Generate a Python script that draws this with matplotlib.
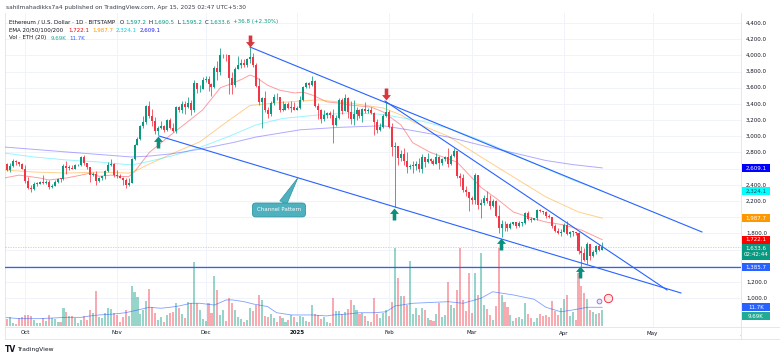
import numpy as np
import matplotlib
matplotlib.use("Agg")
import matplotlib.pyplot as plt
from matplotlib.path import Path
from matplotlib.patches import Rectangle
from matplotlib.lines import Line2D

plt.rcParams['font.family'] = ['DejaVu Sans']

# ---- data: ETH/USD daily, Sep 24 2024 .. Apr 14 2025 (day 0 = Oct 1 2024) ----
days = np.arange(-7, 196)

closes = [2655, 2580, 2635, 2695, 2680, 2660, 2600,  # Sep
          2450, 2365, 2350, 2415, 2415, 2440, 2425, 2440, 2370, 2390, 2435, 2475, 2470, 2630, 2605, 2610,
          2600, 2640, 2645, 2745, 2665, 2620, 2525, 2535, 2450, 2480, 2505, 2570, 2640, 2660, 2520,  # Oct
          2510, 2490, 2460, 2400, 2425, 2720, 2895, 2960, 3130, 3180, 3370, 3250, 3185, 3060, 3100,
          3130, 3075, 3200, 3105, 3070, 3360, 3330, 3400, 3360, 3415, 3325, 3660, 3580, 3590, 3700,  # Nov
          3710, 3640, 3615, 3840, 3790, 4000, 4005, 4000, 3715, 3630, 3830, 3880, 3910, 3875, 3960, 3985,
          3880, 3625, 3420, 3470, 3320, 3280, 3415, 3490, 3480, 3330, 3330, 3400, 3350, 3360, 3330,  # Dec
          3355, 3450, 3610, 3655, 3630, 3685, 3380, 3325, 3215, 3265, 3285, 3265, 3135, 3225, 3450, 3310,
          3475, 3305, 3215, 3280, 3330, 3245, 3335, 3310, 3320, 3285, 3180, 3075, 3115, 3250, 3300,  # Jan
          3120, 2870, 2880, 2730, 2785, 2690, 2620, 2630, 2630, 2660, 2600, 2740, 2680, 2725, 2690, 2660,
          2745, 2670, 2720, 2740, 2660, 2760, 2820, 2510, 2490, 2335, 2310, 2235,  # Feb
          2215, 2520, 2150, 2170, 2240, 2200, 2140, 2200, 2020, 1865, 1920, 1910, 1865, 1910, 1935, 1885,
          1925, 1930, 2055, 1980, 1965, 1985, 2085, 2080, 2065, 2010, 2000, 1895, 1830, 1805, 1820,  # Mar
          1905, 1795, 1815, 1815, 1805, 1580, 1555, 1475, 1670, 1520, 1570, 1645, 1597.2, 1633.6]  # Apr

highs = [2700, 2670, 2670, 2725, 2705, 2685, 2670,
         2640, 2500, 2400, 2440, 2430, 2450, 2520, 2465, 2465, 2415, 2460, 2485, 2490, 2660, 2690, 2640,
         2640, 2660, 2660, 2755, 2770, 2665, 2625, 2560, 2570, 2500, 2510, 2580, 2680, 2720, 2670,
         2580, 2530, 2495, 2485, 2480, 2730, 2910, 2985, 3145, 3250, 3390, 3440, 3340, 3240, 3130,
         3190, 3140, 3215, 3220, 3160, 3370, 3380, 3430, 3430, 3490, 3450, 3690, 3660, 3630, 3730,
         3745, 3750, 3660, 3870, 3930, 4090, 4020, 4020, 4010, 3800, 3850, 3990, 3950, 3950, 3970, 4105,
         4030, 3910, 3720, 3490, 3560, 3360, 3440, 3520, 3530, 3480, 3435, 3410, 3420, 3430, 3420,
         3370, 3500, 3620, 3670, 3670, 3745, 3700, 3410, 3340, 3320, 3300, 3315, 3340, 3260, 3470, 3470,
         3525, 3480, 3440, 3450, 3360, 3340, 3350, 3420, 3350, 3360, 3295, 3210, 3170, 3280, 3430,
         3330, 3160, 2925, 2880, 2825, 2850, 2800, 2660, 2700, 2690, 2730, 2780, 2740, 2795, 2735, 2720,
         2790, 2750, 2730, 2760, 2850, 2775, 2855, 2820, 2540, 2530, 2380, 2310,
         2260, 2550, 2525, 2220, 2280, 2320, 2280, 2230, 2210, 2150, 1960, 1950, 1925, 1935, 1945, 1940,
         1950, 1935, 2065, 2070, 2000, 1995, 2095, 2105, 2080, 2075, 2035, 2005, 1910, 1860, 1850,
         1930, 1955, 1830, 1830, 1820, 1815, 1640, 1620, 1690, 1670, 1595, 1650, 1670, 1690.5]

lows = [2610, 2565, 2555, 2615, 2650, 2630, 2590,
        2420, 2345, 2310, 2340, 2390, 2405, 2410, 2410, 2350, 2355, 2380, 2425, 2440, 2460, 2535, 2580,
        2590, 2590, 2630, 2635, 2640, 2595, 2440, 2510, 2400, 2440, 2465, 2470, 2560, 2630, 2500,
        2480, 2480, 2400, 2360, 2390, 2420, 2710, 2890, 2950, 3100, 3150, 3220, 3130, 3030, 3020,
        3090, 3050, 3070, 3090, 3050, 3035, 3300, 3290, 3280, 3350, 3260, 3300, 3530, 3550, 3580,
        3670, 3560, 3500, 3600, 3690, 3760, 3970, 3930, 3520, 3520, 3610, 3830, 3840, 3850, 3860, 3900,
        3860, 3610, 3390, 3100, 3300, 3220, 3250, 3390, 3450, 3300, 3310, 3320, 3340, 3300, 3320,
        3320, 3340, 3440, 3600, 3600, 3620, 3360, 3210, 3160, 3190, 3230, 3230, 2920, 3130, 3210, 3270,
        3310, 3225, 3150, 3140, 3200, 3230, 3180, 3290, 3285, 3280, 3020, 3040, 3060, 3100, 3240,
        3100, 2750, 2125, 2650, 2700, 2650, 2550, 2590, 2540, 2580, 2560, 2550, 2620, 2665, 2670, 2650,
        2660, 2600, 2650, 2700, 2620, 2650, 2740, 2490, 2390, 2310, 2260, 2080,
        2160, 2160, 2100, 1995, 2150, 2180, 2105, 2130, 2000, 1810, 1755, 1835, 1830, 1855, 1905, 1870,
        1880, 1885, 1920, 1960, 1940, 1965, 1970, 2060, 2040, 1990, 1995, 1870, 1820, 1790, 1770,
        1815, 1780, 1760, 1765, 1780, 1550, 1385, 1455, 1415, 1470, 1505, 1545, 1585, 1595.2]

opens = [2650] + closes[:-1]  # 24h market: each day opens at the prior close

# volume, thousands of ETH
volumes = [2.5, 4.4, 5.6, 1.9, 1.3, 5.0, 5.6,
           6.9, 6.9, 6.3, 3.8, 1.9, 1.9, 5.0, 3.1, 6.9, 5.0, 4.4, 2.5, 2.5, 11.3, 8.8, 6.3,
           6.3, 5.0, 1.9, 3.8, 6.3, 3.8, 10.0, 8.1, 21.9, 5.6, 5.0, 8.1, 11.3, 10.6, 8.1,
           6.9, 2.5, 5.6, 10.0, 6.3, 25.0, 21.3, 18.1, 7.5, 10.0, 15.6, 23.1, 11.9, 8.1, 3.8,
           5.6, 2.5, 6.9, 8.1, 8.8, 14.4, 11.3, 7.5, 5.0, 15.0, 14.4, 40.0, 14.4, 10.0, 4.4,
           3.1, 14.4, 8.1, 31.3, 22.5, 6.9, 10.0, 3.1, 17.5, 14.4, 10.0, 5.6, 4.4, 2.5, 3.8, 11.3,
           9.4, 13.1, 19.4, 16.3, 6.3, 5.6, 7.5, 5.0, 2.5, 6.3, 5.0, 2.5, 3.8, 6.9, 5.6,
           2.5, 6.3, 5.6, 3.1, 2.5, 13.1, 7.5, 6.9, 4.4, 5.6, 2.5, 1.9, 17.5, 9.4, 9.4, 7.5,
           8.8, 10.6, 16.3, 13.1, 10.0, 7.5, 8.1, 6.3, 3.1, 2.5, 17.5, 7.5, 5.0, 8.1, 10.0,
           6.3, 15.0, 48.8, 30.0, 18.8, 18.8, 13.1, 40.6, 7.5, 11.3, 6.9, 11.3, 10.0, 5.0, 3.8, 3.1,
           7.5, 14.4, 5.6, 6.9, 27.5, 13.1, 11.3, 22.5, 48.8, 16.3, 9.4, 33.1,
           8.1, 33.1, 19.4, 45.6, 13.1, 10.6, 6.9, 3.8, 12.5, 48.8, 19.4, 15.0, 11.9, 6.9, 3.1, 5.0,
           5.6, 4.4, 14.4, 7.5, 5.0, 2.5, 5.0, 7.5, 6.3, 6.9, 5.6, 15.6, 9.4, 6.9, 11.3,
           16.9, 19.4, 6.3, 8.8, 3.8, 33.1, 25.0, 20.6, 16.9, 10.0, 8.8, 7.5, 8.1, 9.69]

# indicator lines
vol_ma_days = [-7, -2, 5, 14, 19, 22, 25, 30, 34, 39, 42, 46, 49, 52, 56, 59, 64, 68, 70, 74, 77,
               82, 85, 90, 97, 102, 104, 109, 113, 118, 122, 125, 131, 143, 148, 154, 158, 165,
               172, 176, 181, 185, 190, 195]
vol_ma = [5.4, 4.6, 4.6, 5.4, 5.4, 6.3, 6.9, 7.5, 8.3, 10.4, 11.7, 11.1, 11.7, 12.5, 14.2, 14.2,
          13.1, 16.3, 16.3, 15.2, 13.8, 12.1, 8.3, 6.9, 6.9, 6.3, 6.9, 7.5, 8.3, 8.3, 8.9, 12.5,
          14.2, 15.2, 14.2, 17.3, 21.4, 19.4, 16.7, 11.7, 8.9, 10.0, 11.7, 11.7]

ema20_days = [-7, -2, 5, 8, 14, 19, 22, 25, 29, 32, 35, 37, 42, 49, 55, 60, 66, 69, 73, 76, 78, 82,
              86, 91, 94, 97, 102, 106, 110, 117, 121, 127, 131, 137, 143, 146, 154, 160, 165, 171,
              176, 182, 188, 195]
ema20 = [2484, 2520, 2484, 2460, 2484, 2520, 2545, 2505, 2520, 2505, 2500, 2560, 2800, 3010, 3180,
         3325, 3600, 3640, 3700, 3757, 3730, 3630, 3570, 3535, 3545, 3510, 3425, 3410, 3385, 3360,
         3300, 3140, 2920, 2800, 2720, 2680, 2370, 2210, 2064, 1990, 1940, 1905, 1840, 1722.1]
ema50_days = [-7, 3, 14, 25, 35, 38, 41, 50, 59, 69, 76, 87, 99, 110, 121, 127, 131, 143, 154, 165,
              176, 187, 195]
ema50 = [2583, 2558, 2545, 2558, 2545, 2583, 2640, 2790, 2930, 3200, 3380, 3420, 3450, 3410, 3350,
         3263, 3180, 3000, 2745, 2497, 2250, 2064, 1987.7]
ema100_days = [-7, 3, 14, 25, 36, 42, 50, 59, 69, 78, 87, 99, 110, 121, 127, 135, 143, 154, 165,
               176, 185, 195]
ema100 = [2793, 2744, 2707, 2682, 2645, 2690, 2760, 2860, 3000, 3140, 3220, 3263, 3290, 3270, 3230,
          3180, 3100, 2950, 2780, 2600, 2460, 2324.1]
ema200_days = [-7, 14, 36, 42, 50, 59, 70, 78, 93, 106, 121, 131, 143, 154, 165, 176, 185, 195]
ema200 = [2867, 2806, 2744, 2755, 2785, 2840, 2920, 2990, 3080, 3110, 3130, 3070, 2990, 2890, 2795,
          2700, 2650, 2609.1]

# drawings (day, price)
upper_line = ([76.0, 228.7], [4103, 1817])
lower_line = ([45.3, 221.6], [3003, 1063])
inner_line = ([121.6, 216.9], [3436, 1100])
support = 1385.7
last_price = 1633.6
down_arrows = ([76.0, 122.0], [4177, 3522])
up_arrows = ([44.9, 124.7, 160.8, 187.5], [2929, 2039, 1668, 1322])
callout_target = (92.2, 2487)
callout_box = (85.8, 2089)

month_pos = [0, 31, 61, 92, 123, 151, 182, 212, 243]
month_lab = ['Oct', 'Nov', 'Dec', '2025', 'Feb', 'Mar', 'Apr', 'May', 'Jun']
price_ticks = np.arange(1000, 4401, 200)

# ---- layout (pixel based) ----
W, H = 780, 358
GREEN, RED = '#089981', '#f23645'
DARK = '#131722'
BORDER = '#e0e3eb'


def fx(x):
    return x / W


def fy(y):
    return 1 - y / H


fig = plt.figure(figsize=(W / 100, H / 100), dpi=100)
rect = [fx(5), fy(327), (741 - 5) / W, (327 - 13) / H]
XL = (-6.76, 241.9)
YL = (642.3, 4523.6)

gax = fig.add_axes(rect, zorder=0)
vax = fig.add_axes(rect, zorder=1)
ax = fig.add_axes(rect, zorder=2)
for a in (gax, vax, ax):
    a.set_xlim(*XL)
    a.axis('off')
gax.set_ylim(*YL)
ax.set_ylim(*YL)
vax.set_ylim(-0.625, 195.6)
vax.patch.set_visible(False)
ax.patch.set_visible(False)

# grid
for p in price_ticks:
    gax.axhline(p, color='#f0f3fa', lw=0.7)
for m in month_pos:
    gax.axvline(m, color='#f0f3fa', lw=0.7)

# volume
up = np.array(closes) >= np.array(opens)
vcols = np.where(up, GREEN, RED)
vax.bar(days, volumes, width=0.7, color=vcols, alpha=0.42, lw=0)
vax.plot(vol_ma_days, vol_ma, color='#2962ff', lw=0.6, alpha=0.6)

# EMAs
ax.plot(ema20_days, ema20, color='#ff0000', lw=0.7, alpha=0.38, zorder=2)
ax.plot(ema50_days, ema50, color='#ff9800', lw=0.7, alpha=0.45, zorder=2)
ax.plot(ema100_days, ema100, color='#00e5ff', lw=0.7, alpha=0.4, zorder=2)
ax.plot(ema200_days, ema200, color='#3b2bff', lw=0.7, alpha=0.4, zorder=2)

# candles
o = np.array(opens, float)
c = np.array(closes, float)
ax.vlines(days, lows, highs, colors=vcols, lw=0.55, zorder=3)
body_lo = np.minimum(o, c)
body_h = np.maximum(np.abs(c - o), 10)
ax.bar(days, body_h, bottom=body_lo, width=0.68, color=vcols, lw=0, zorder=3)

# current price line
ax.axhline(last_price, color=GREEN, lw=0.6, ls=(0, (1.5, 1.5)), alpha=0.35, zorder=2)

# drawings
for xs, ys in (upper_line, lower_line, inner_line):
    ax.plot(xs, ys, color='#2962ff', lw=0.8, zorder=4)
ax.axhline(support, color='#2962ff', lw=0.9, zorder=4)

arrow_verts = [(0, 1), (0.75, 0.1), (0.3, 0.1), (0.3, -1), (-0.3, -1), (-0.3, 0.1), (-0.75, 0.1), (0, 1)]
codes = [Path.MOVETO] + [Path.LINETO] * 6 + [Path.CLOSEPOLY]
up_mark = Path(arrow_verts, codes)
down_mark = Path([(x, -y) for x, y in arrow_verts], codes)
ax.plot(*up_arrows, ls='none', marker=up_mark, ms=8.6, color='#0a8f7f', mec='none', zorder=5)
ax.plot(*down_arrows, ls='none', marker=down_mark, ms=8.6, color='#d9363e', mec='none', zorder=5)

ax.annotate('Channel Pattern', xy=callout_target, xytext=callout_box, ha='center', va='center',
            fontsize=4, color='white', zorder=6,
            bbox=dict(boxstyle='round,pad=0.8,rounding_size=0.6', fc='#4fb1be', ec='#2e96a3', lw=0.6),
            arrowprops=dict(arrowstyle='wedge,tail_width=1.4', fc='#4fb1be', ec='#2e96a3', lw=0.5,
                            shrinkA=0, shrinkB=0))

# time scale strip (clips the cut-off "Jun")
tax = fig.add_axes([fx(5), fy(339), 736 / W, 12 / H])
tax.set_xlim(*XL)
tax.set_ylim(0, 1)
tax.axis('off')
for m, lab in zip(month_pos, month_lab):
    tax.text(m, 0.5, lab, ha='center', va='center', fontsize=4, color=DARK,
             fontweight='bold' if lab == '2025' else 'normal', clip_on=True)

# price scale
pax = fig.add_axes([fx(741), fy(327), 39 / W, (327 - 13) / H])
pax.set_xlim(0, 39)
pax.set_ylim(*YL)
pax.axis('off')

PX = 1 / 0.0809  # price units per pixel


def vol_price(v):
    # volume value -> price level at the same screen height
    y = 326 - 1.6 * v
    return 4400 - (y - 23) * PX


badges = [  # (level, label, background, text colour, rows, px above level)
    (2609.1, '2,609.1', '#0000ff', 'white', 1, 4),
    (2324.1, '2,324.1', '#00ffff', '#0d4f55', 1, 4),
    (1987.7, '1,987.7', '#ff9800', 'white', 1, 4),
    (1722.1, '1,722.1', '#ff0000', 'white', 1, 4),
    (1633.6, '1,633.6\n02:42:44', GREEN, 'white', 2, 3.3),
    (support, '1,385.7', '#2962ff', 'white', 1, 4),
    (vol_price(11.7), '11.7K', '#2962ff', 'white', 1, 4),
    (vol_price(11.7) - 9 * PX, '9.69K', '#22ab94', 'white', 1, 4),  # stacked under the MA tag
]

# axis labels, except those hidden behind a price tag
for p in price_ticks:
    covered = any(lvl + off * PX - 8 * rows * PX - 2 * PX < p < lvl + off * PX + 2 * PX
                  for lvl, _, _, _, rows, off in badges)
    if not covered:
        pax.text(5, p, f'{p:,.1f}', ha='left', va='center', fontsize=4, color=DARK, zorder=1)

for lvl, lab, bg, fg, rows, off in badges:
    h = 8 * rows * PX
    top = lvl + off * PX
    pax.add_patch(Rectangle((1, top - h), 28, h, fc=bg, ec='none', zorder=3))
    pax.text(15, top - h / 2, lab, ha='center', va='center', fontsize=4, color=fg, zorder=4,
             linespacing=1.3)

# event icons
ax.plot([193.9], [964], marker='o', ms=3.5, mfc='#e9e4ff', mec='#7e57c2', mew=0.5, zorder=6)
ax.plot([197.0], [1001], marker='o', ms=6, mfc='#fde7e9', mec='#f23645', mew=0.7, zorder=6)

# frame
for (x0, y0, x1, y1) in [(5, 13, 5, 339), (741, 13, 741, 339), (5, 327, 780, 327),
                         (5, 339, 780, 339)]:
    fig.add_artist(Line2D([fx(x0), fx(x1)], [fy(y0), fy(y1)], color=BORDER, lw=0.6))


# header / legend rows
def put_row(x, y, parts, size=4.0):
    r = fig.canvas.get_renderer()
    for s, col, gap in parts:
        t = fig.text(fx(x), fy(y), s, color=col, fontsize=size, va='center', ha='left')
        x += t.get_window_extent(r).width + gap


put_row(6, 7, [('sahilmahadikks7a4 published on TradingView.com, Apr 15, 2025 02:47 UTC+5:30',
                '#3a3e4a', 0)], size=4.25)
put_row(9, 22, [('Ethereum / U.S. Dollar \u00b7 1D \u00b7 BITSTAMP', DARK, 5),
                ('O', DARK, 0.5), ('1,597.2', GREEN, 3), ('H', DARK, 0.5), ('1,690.5', GREEN, 3),
                ('L', DARK, 0.5), ('1,595.2', GREEN, 3), ('C', DARK, 0.5), ('1,633.6', GREEN, 3),
                ('+36.8 (+2.30%)', GREEN, 0)])
put_row(9, 30, [('EMA 20/50/100/200', DARK, 5), ('1,722.1', '#ff0000', 3), ('1,987.7', '#ff9800', 3),
                ('2,324.1', '#00d5e6', 3), ('2,609.1', '#2020f0', 0)])
put_row(9, 38, [('Vol \u00b7 ETH (20)', DARK, 4), ('9.69K', '#22ab94', 3), ('11.7K', '#2962ff', 0)])

fig.text(fx(5), fy(349), 'TV', fontsize=5.5, fontweight='bold', color=DARK, va='center')
fig.text(fx(17), fy(349), 'TradingView', fontsize=4.3, color=DARK, va='center')

fig.savefig('out.png', dpi=100, facecolor='white')
